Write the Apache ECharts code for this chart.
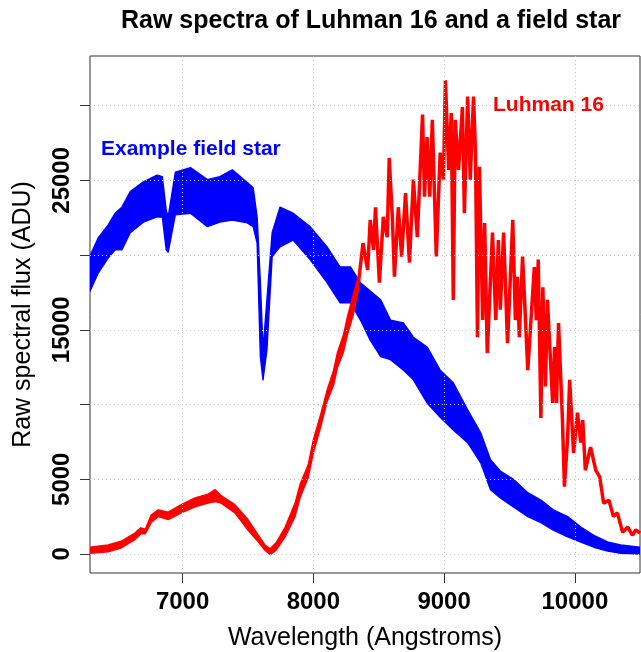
<!DOCTYPE html>
<html>
<head>
<meta charset="utf-8">
<script src="https://cdn.jsdelivr.net/npm/echarts@6/dist/echarts.min.js"></script>
<style>
  html, body { margin: 0; padding: 0; background: #fff; }
  #chart { width: 641px; height: 652px; }
</style>
</head>
<body>
<div id="chart"></div>
<script>
// Axis ticks and labels
const xTicks = [7000, 8000, 9000, 10000];
const yTicks = [0, 5000, 10000, 15000, 20000, 25000, 30000];
const yTickLabels = [0, 5000, 15000, 25000];

// Example field star: upper and lower edge of the noisy spectrum (ADU)
const fieldWave = [6290, 6355, 6430, 6485, 6535, 6600, 6700, 6805, 6845, 6875, 6890, 6945, 7060, 7190, 7285, 7380, 7495, 7540, 7570, 7595, 7615, 7645, 7685, 7745, 7845, 7975, 8105, 8205, 8285, 8360, 8435, 8515, 8590, 8690, 8765, 8870, 8970, 9070, 9180, 9280, 9355, 9430, 9530, 9640, 9740, 9835, 9945, 10045, 10145, 10250, 10350, 10500];
const fieldHigh = [19900, 21150, 22000, 22800, 23200, 24250, 24900, 25350, 25250, 23000, 22550, 25550, 25850, 25050, 25250, 25700, 24850, 24500, 22550, 18150, 13650, 17000, 21500, 23200, 22800, 21900, 20550, 19200, 19200, 18150, 17600, 17000, 15650, 15450, 14500, 13850, 12300, 11450, 9650, 8100, 6300, 5550, 5000, 4100, 3600, 2950, 2500, 1800, 1250, 800, 600, 450];
const fieldLow = [17550, 18800, 19800, 20350, 20350, 21500, 22200, 22550, 22550, 20350, 20200, 22700, 22800, 21900, 22200, 22350, 22150, 21900, 20800, 13200, 11650, 13650, 19900, 20550, 21000, 19700, 18150, 16800, 16800, 15650, 14300, 13200, 13000, 12300, 11650, 10100, 9150, 8300, 7450, 6100, 4300, 3750, 3150, 2500, 2100, 1600, 1150, 800, 450, 200, 50, 0];

// Luhman 16, blue end: upper and lower edge of the spectra (ADU)
const luhmanBandWave = [6290, 6430, 6530, 6635, 6680, 6715, 6760, 6815, 6890, 6990, 7095, 7195, 7250, 7295, 7400, 7500, 7580, 7630, 7670, 7715, 7785, 7860, 7900, 7960, 8000, 8055, 8105, 8155, 8185, 8230, 8260, 8305, 8345];
const luhmanBandHigh = [450, 600, 850, 1400, 1750, 1650, 2600, 2950, 2800, 3300, 3750, 4000, 4300, 3900, 3300, 2300, 1250, 600, 350, 750, 1800, 3400, 4700, 5950, 7650, 9300, 10950, 12300, 13500, 14650, 15850, 17350, 18550];
const luhmanBandLow = [50, 150, 400, 950, 1350, 1350, 2100, 2500, 2300, 2750, 3150, 3400, 3500, 3400, 2750, 1600, 800, 250, -50, 250, 1150, 2500, 3800, 5100, 6750, 8450, 10200, 11300, 12500, 13500, 14650, 16000, 17650];

// Luhman 16, red end: the spectrum traced peak to trough (ADU)
const luhmanWave = [8345, 8380, 8415, 8435, 8460, 8475, 8505, 8535, 8565, 8580, 8605, 8620, 8650, 8675, 8705, 8735, 8765, 8795, 8835, 8850, 8870, 8890, 8910, 8940, 8970, 8995, 9010, 9035, 9055, 9070, 9085, 9110, 9140, 9155, 9180, 9200, 9225, 9240, 9255, 9270, 9295, 9310, 9330, 9370, 9395, 9415, 9430, 9455, 9485, 9525, 9545, 9560, 9575, 9600, 9640, 9690, 9705, 9720, 9740, 9755, 9775, 9790, 9830, 9845, 9860, 9875, 9905, 9920, 9945, 9960, 9990, 10020, 10045, 10060, 10080, 10120, 10160, 10190, 10220, 10260, 10295, 10325, 10365, 10405, 10440, 10465, 10500];
const luhmanFlux = [18150, 20800, 19000, 22350, 20350, 23200, 18150, 22550, 21200, 26500, 22350, 18550, 23200, 19900, 24150, 19500, 25050, 21200, 29400, 23900, 27900, 23900, 29050, 19900, 26850, 25050, 31700, 25700, 29500, 17000, 29050, 25700, 29900, 22800, 30600, 25050, 30600, 26850, 14500, 25900, 15650, 22150, 13450, 21500, 15650, 21000, 16350, 21500, 14100, 22350, 15650, 18550, 14500, 19900, 12300, 19200, 15650, 19700, 9100, 17850, 11200, 17000, 10100, 13850, 10100, 15450, 8950, 4500, 7850, 11650, 6750, 9450, 7450, 8950, 5600, 7150, 5600, 5150, 3400, 3600, 2500, 2750, 1450, 1800, 1250, 1600, 1400];

const BLUE = '#0000ff';
const RED = '#ff0000';
const FONT = '"Liberation Sans", Arial, Helvetica, sans-serif';

const pairs = (xs, ys) => xs.map((x, i) => [x, ys[i]]);
const bandRows = (xs, hi, lo) => xs.map((x, i) => [x, lo[i], hi[i]]);

// A filled band between the lower and upper edges, drawn once as a polygon
function bandSeries(name, rows, color, z) {
  return {
    name, type: 'custom', z, clip: true, silent: true,
    data: rows,
    encode: { x: 0, y: [1, 2] },
    renderItem: (params, api) => {
      if (params.dataIndexInside !== 0) return null;
      const upper = rows.map(r => api.coord([r[0], r[2]]));
      const lower = rows.map(r => api.coord([r[0], r[1]])).reverse();
      return {
        type: 'polygon',
        shape: { points: upper.concat(lower) },
        style: { fill: color, stroke: color, lineWidth: 1.4, lineJoin: 'round' },
        silent: true
      };
    }
  };
}

// Dotted reference grid at the tick positions
const gridLines = xTicks.map(v => ({ xAxis: v })).concat(yTicks.map(v => ({ yAxis: v })));

const chart = echarts.init(document.getElementById('chart'), null, { renderer: 'canvas' });

chart.setOption({
  animation: false,
  backgroundColor: '#ffffff',
  title: {
    text: 'Raw spectra of Luhman 16 and a field star',
    left: 366,
    top: 4,
    textAlign: 'center',
    textStyle: { fontFamily: FONT, fontSize: 25, fontWeight: 'bold', color: '#000' }
  },
  grid: {
    left: 90, right: 1, top: 56, bottom: 79,
    outerBoundsMode: 'none',
    containLabel: false,
    show: true, borderColor: '#333', borderWidth: 1, backgroundColor: 'transparent'
  },
  xAxis: {
    type: 'value',
    min: 6292, max: 10498,
    name: 'Wavelength (Angstroms)',
    nameLocation: 'middle',
    nameGap: 53,
    nameTextStyle: { fontFamily: FONT, fontSize: 25, color: '#000' },
    axisLine: { show: false, onZero: false },
    splitLine: { show: false },
    axisTick: { show: true, length: 10, customValues: xTicks, lineStyle: { color: '#333', width: 1 } },
    axisLabel: {
      customValues: xTicks, margin: 17,
      fontFamily: FONT, fontSize: 24, fontWeight: 'bold', color: '#000',
      formatter: v => String(v)
    }
  },
  yAxis: {
    type: 'value',
    min: -1275, max: 33320,
    name: 'Raw spectral flux (ADU)',
    nameLocation: 'middle',
    nameGap: 54,
    nameTextStyle: { fontFamily: FONT, fontSize: 25, color: '#000' },
    axisLine: { show: false, onZero: false },
    splitLine: { show: false },
    axisTick: { show: true, length: 10, customValues: yTicks, lineStyle: { color: '#333', width: 1 } },
    axisLabel: {
      customValues: yTickLabels, rotate: 90, margin: 16,
      fontFamily: FONT, fontSize: 24, fontWeight: 'bold', color: '#000',
      formatter: v => String(v)
    }
  },
  graphic: [
    {
      type: 'text', left: 101, top: 139, z: 100,
      style: { text: 'Example field star', fill: BLUE, font: 'bold 21px ' + FONT }
    },
    {
      type: 'text', left: 493, top: 95, z: 100,
      style: { text: 'Luhman 16', fill: RED, font: 'bold 21px ' + FONT }
    }
  ],
  series: [
    {
      name: 'grid', type: 'line', data: [], z: 0, silent: true,
      markLine: {
        silent: true, symbol: 'none', animation: false,
        label: { show: false },
        lineStyle: { type: [1, 3], color: '#c8c8c8', width: 1 },
        data: gridLines
      }
    },
    bandSeries('Example field star', bandRows(fieldWave, fieldHigh, fieldLow), BLUE, 3),
    bandSeries('Luhman 16', bandRows(luhmanBandWave, luhmanBandHigh, luhmanBandLow), RED, 4),
    {
      name: 'Luhman 16 (red end)', type: 'line',
      data: pairs(luhmanWave, luhmanFlux), symbol: 'none', z: 4,
      lineStyle: { width: 3.5, color: RED }, silent: true
    }
  ]
});
</script>
</body>
</html>
